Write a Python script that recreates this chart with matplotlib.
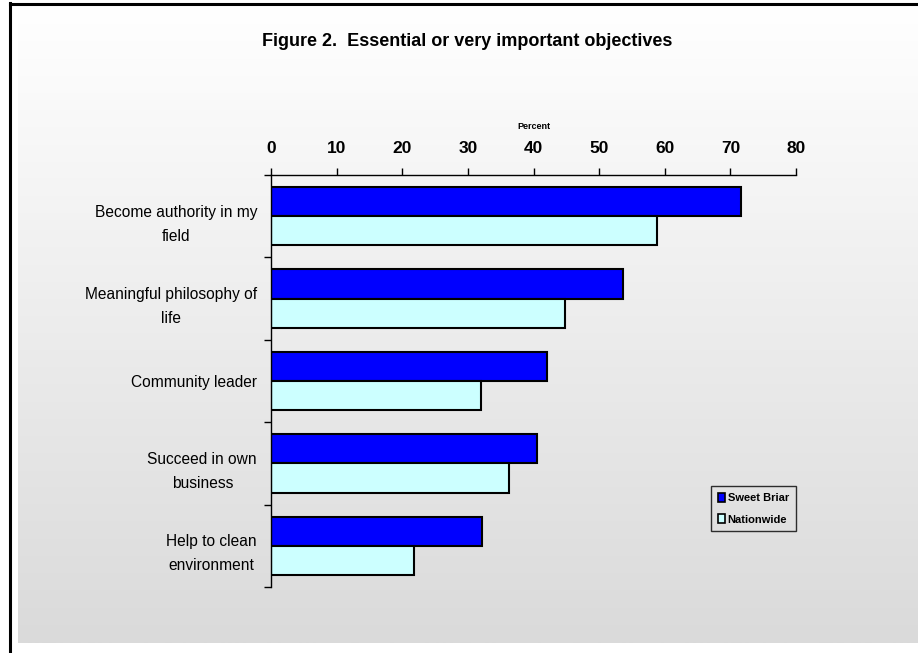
import numpy as np
import matplotlib
matplotlib.use("Agg")
import matplotlib.pyplot as plt
import matplotlib.transforms as mtransforms
from matplotlib.patches import Patch
from matplotlib.lines import Line2D

plt.rcParams['font.family'] = ['Liberation Sans', 'DejaVu Sans']

categories = ["Become authority in my\nfield",
              "Meaningful philosophy of\nlife",
              "Community leader",
              "Succeed in own\nbusiness",
              "Help to clean\nenvironment"]
sweet_briar = [71.6, 53.7, 42.0, 40.6, 32.2]
nationwide = [58.8, 44.8, 32.0, 36.2, 21.8]
x_ticks = [0, 10, 20, 30, 40, 50, 60, 70, 80]

W, H = 918, 653
fig = plt.figure(figsize=(W / 100, H / 100), dpi=100)
fig.patch.set_facecolor("white")

# soft vertical gradient panel behind the chart
bg = fig.add_axes([18 / W, 1 - 643 / H, 1 - 18 / W, (643 - 6) / H], zorder=0)
grad = np.linspace(0, 1, 256).reshape(-1, 1)
bg.imshow(grad, aspect="auto", cmap=matplotlib.colors.LinearSegmentedColormap.from_list(
    "g", ["#ffffff", "#dadada"]), extent=[0, 1, 0, 1], origin="upper")
bg.set_axis_off()

# frame lines on the left and top
fig.add_artist(Line2D([10 / W, 10 / W], [0, 1 - 3 / H], color="black", lw=2.2,
                      transform=fig.transFigure))
fig.add_artist(Line2D([10 / W, 1], [1 - 3.5 / H, 1 - 3.5 / H], color="black", lw=2.2,
                      transform=fig.transFigure))

ax = fig.add_axes([271 / W, 1 - 587 / H, (796 - 271) / W, (587 - 175) / H], zorder=1)
ax.patch.set_alpha(0)

y = np.arange(len(categories))
h = 0.354
ax.barh(y - h / 2, sweet_briar, height=h, color="#0000ff", edgecolor="black",
        linewidth=1.5, label="Sweet Briar")
ax.barh(y + h / 2, nationwide, height=h, color="#ccffff", edgecolor="black",
        linewidth=1.5, label="Nationwide")

ax.set_xlim(0, 80)
ax.set_ylim(len(categories) - 0.5, -0.5)

ax.xaxis.set_ticks_position("top")
ax.xaxis.set_label_position("top")
ax.set_xticks(x_ticks)
ax.set_xticklabels([str(t) for t in x_ticks], fontsize=12.5, fontweight="bold")
ax.tick_params(axis="x", direction="out", length=5, width=1, pad=9)
ax.set_xlabel("Percent", fontsize=6.5, fontweight="bold", labelpad=8)

ax.set_yticks(y)
ax.set_yticklabels(categories, fontsize=11.2, ha="right", multialignment="center",
                   linespacing=1.75)
ax.tick_params(axis="y", which="major", length=0, pad=10)
ax.set_yticks(np.arange(-0.5, len(categories), 1.0), minor=True)
ax.tick_params(axis="y", which="minor", direction="out", length=5, width=1)

# two-line labels sit a little lower than the group centre
shift = mtransforms.ScaledTranslation(0, -2 / 100, fig.dpi_scale_trans)
for lbl in ax.get_yticklabels():
    if "\n" in lbl.get_text():
        lbl.set_transform(lbl.get_transform() + shift)

for s in ["right", "bottom"]:
    ax.spines[s].set_visible(False)
for s in ["left", "top"]:
    ax.spines[s].set_linewidth(1)
    ax.spines[s].set_color("black")

handles = [Patch(facecolor="#0000ff", edgecolor="black", linewidth=1.2),
           Patch(facecolor="#ccffff", edgecolor="black", linewidth=1.2)]
leg = fig.legend(handles, ["Sweet Briar", "Nationwide"],
                 loc="upper left", bbox_to_anchor=(711 / W, 1 - 486 / H),
                 prop={"weight": "bold", "size": 8}, frameon=True,
                 handlelength=0.7, handleheight=0.9, handletextpad=0.2,
                 labelspacing=1.0, borderpad=0.6, fancybox=False,
                 borderaxespad=0)
leg.get_frame().set_edgecolor("black")
leg.get_frame().set_facecolor("none")
leg.get_frame().set_linewidth(1)

fig.text(467 / W, 1 - 41 / H,
         "Figure 2.  Essential or very important objectives",
         ha="center", va="center", fontsize=13, fontweight="bold")

fig.savefig("out.png", dpi=100)
